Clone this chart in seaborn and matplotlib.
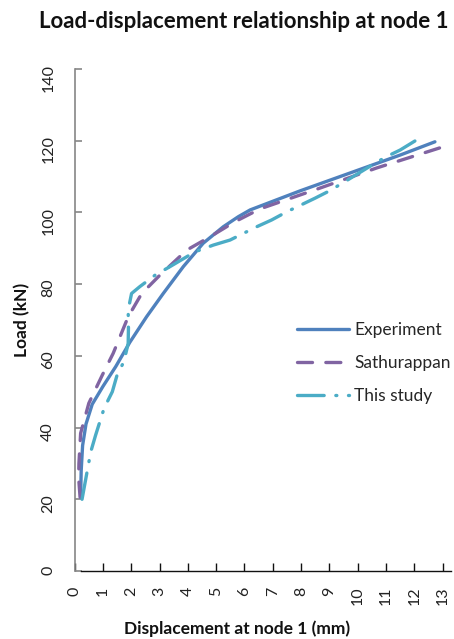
import numpy as np
import pandas as pd
import matplotlib
matplotlib.use("Agg")
import matplotlib.pyplot as plt
import seaborn as sns

# values (displacement mm, load kN)
exp_disp = [0.21, 0.23, 0.28, 0.4, 0.62, 1.0, 1.45, 1.95, 2.54, 3.13, 3.84, 4.54, 5.25, 5.78,
            6.2, 7.96, 9.73, 11.5, 12.73]
exp_load = [20.5, 28, 35, 41, 46.5, 51.5, 57, 63.8, 70.9, 77.4, 84.9, 91.4, 96, 98.8,
            100.7, 106, 111, 116, 119.7]

sath_disp = [0.19, 0.14, 0.15, 0.21, 0.5, 0.98, 1.36, 1.89, 2.37, 3.01, 3.96, 4.78, 5.66, 6.55,
             8.67, 10.67, 12.9]
sath_load = [20.6, 26, 30, 38.4, 46.8, 54.7, 60.7, 70.9, 77.4, 82.5, 89.5, 93.2, 97.4, 101,
             106.8, 112.4, 118]

study_disp = [0.26, 0.45, 0.57, 0.74, 1.04, 1.33, 1.5, 1.74, 1.89, 1.9, 1.89, 2.01, 2.3, 2.84,
              3.37, 4.25, 4.9, 5.49, 6.43, 6.96, 7.5, 8.5, 9.0, 9.55, 10.4, 11.0, 11.5, 12.08]
study_load = [20, 28.2, 33.3, 37.9, 45.4, 50, 54.7, 58.4, 63.5, 67.7, 72.8, 77.4, 79.3, 82.5,
              84.9, 89, 90.9, 92.3, 96, 97.9, 100.2, 104, 106, 108.6, 112.7, 115.5, 117.4, 120.2]

series_names = ["Experiment", "Sathurappan", "This study"]
series_colors = ["#4F81BD", "#8064A2", "#4BACC6"]
x_ticks = list(range(0, 14))
y_ticks = list(range(0, 141, 20))

sns.set_style("white")
plt.rcParams["font.family"] = ["Lato", "DejaVu Sans"]

fig = plt.figure(figsize=(4.54, 6.39), dpi=100)
ax = fig.add_axes([0.1645, 0.1064, 0.829, 0.7856])

styles = ["-", (0, (4.5, 4)), (0, (8, 3.5, 0.3, 3.5))]
data = [(exp_disp, exp_load), (sath_disp, sath_load), (study_disp, study_load)]
for (xs, ys), name, col, ls in zip(data, series_names, series_colors, styles):
    sns.lineplot(x=xs, y=ys, sort=False, estimator=None, ax=ax, color=col,
                 lw=2.4, ls=ls, label=name, solid_capstyle="round", dash_capstyle="round",
                 solid_joinstyle="round")

ax.set_xlim(0, 13.3)
ax.set_ylim(0, 140)
ax.set_xticks(x_ticks)
ax.set_yticks(y_ticks)
ax.set_xticklabels([str(v) for v in x_ticks])
ax.set_yticklabels([str(v) for v in y_ticks])

for s in ["top", "right"]:
    ax.spines[s].set_visible(False)
ax.spines["left"].set_color("#868686")
ax.spines["left"].set_linewidth(1.2)
ax.spines["bottom"].set_color("#111111")
ax.spines["bottom"].set_linewidth(1.0)
ax.spines["bottom"].set_bounds(0.22, 13.3)

ax.tick_params(axis="y", left=True, direction="in", length=5, color="#868686", width=1.2,
               pad=14, labelrotation=90, labelsize=11.5, labelcolor="#222222")
ax.tick_params(axis="x", bottom=True, direction="in", length=6, color="#111111", width=1.0,
               pad=11, labelrotation=90, labelsize=11.5, labelcolor="#222222")
ax.set_xlabel("")
ax.set_ylabel("")

fig.text(0.537, 0.966, "Load-displacement relationship at node 1", ha="center", va="center",
         fontsize=16, fontweight="bold", color="#111111")
fig.text(0.522, 0.016, "Displacement at node 1 (mm)", ha="center", va="center",
         fontsize=12.5, fontweight="bold", color="#111111")
fig.text(0.048, 0.50, "Load (kN)", ha="center", va="center", rotation=90,
         fontsize=12.5, fontweight="bold", color="#111111")

ax.legend(loc="center left", bbox_to_anchor=(0.654, 0.432), bbox_transform=fig.transFigure,
          frameon=False, fontsize=12.5, handlelength=3.0, handletextpad=0.3,
          labelspacing=1.0, borderpad=0, borderaxespad=0)

fig.savefig("out.png", dpi=100)
